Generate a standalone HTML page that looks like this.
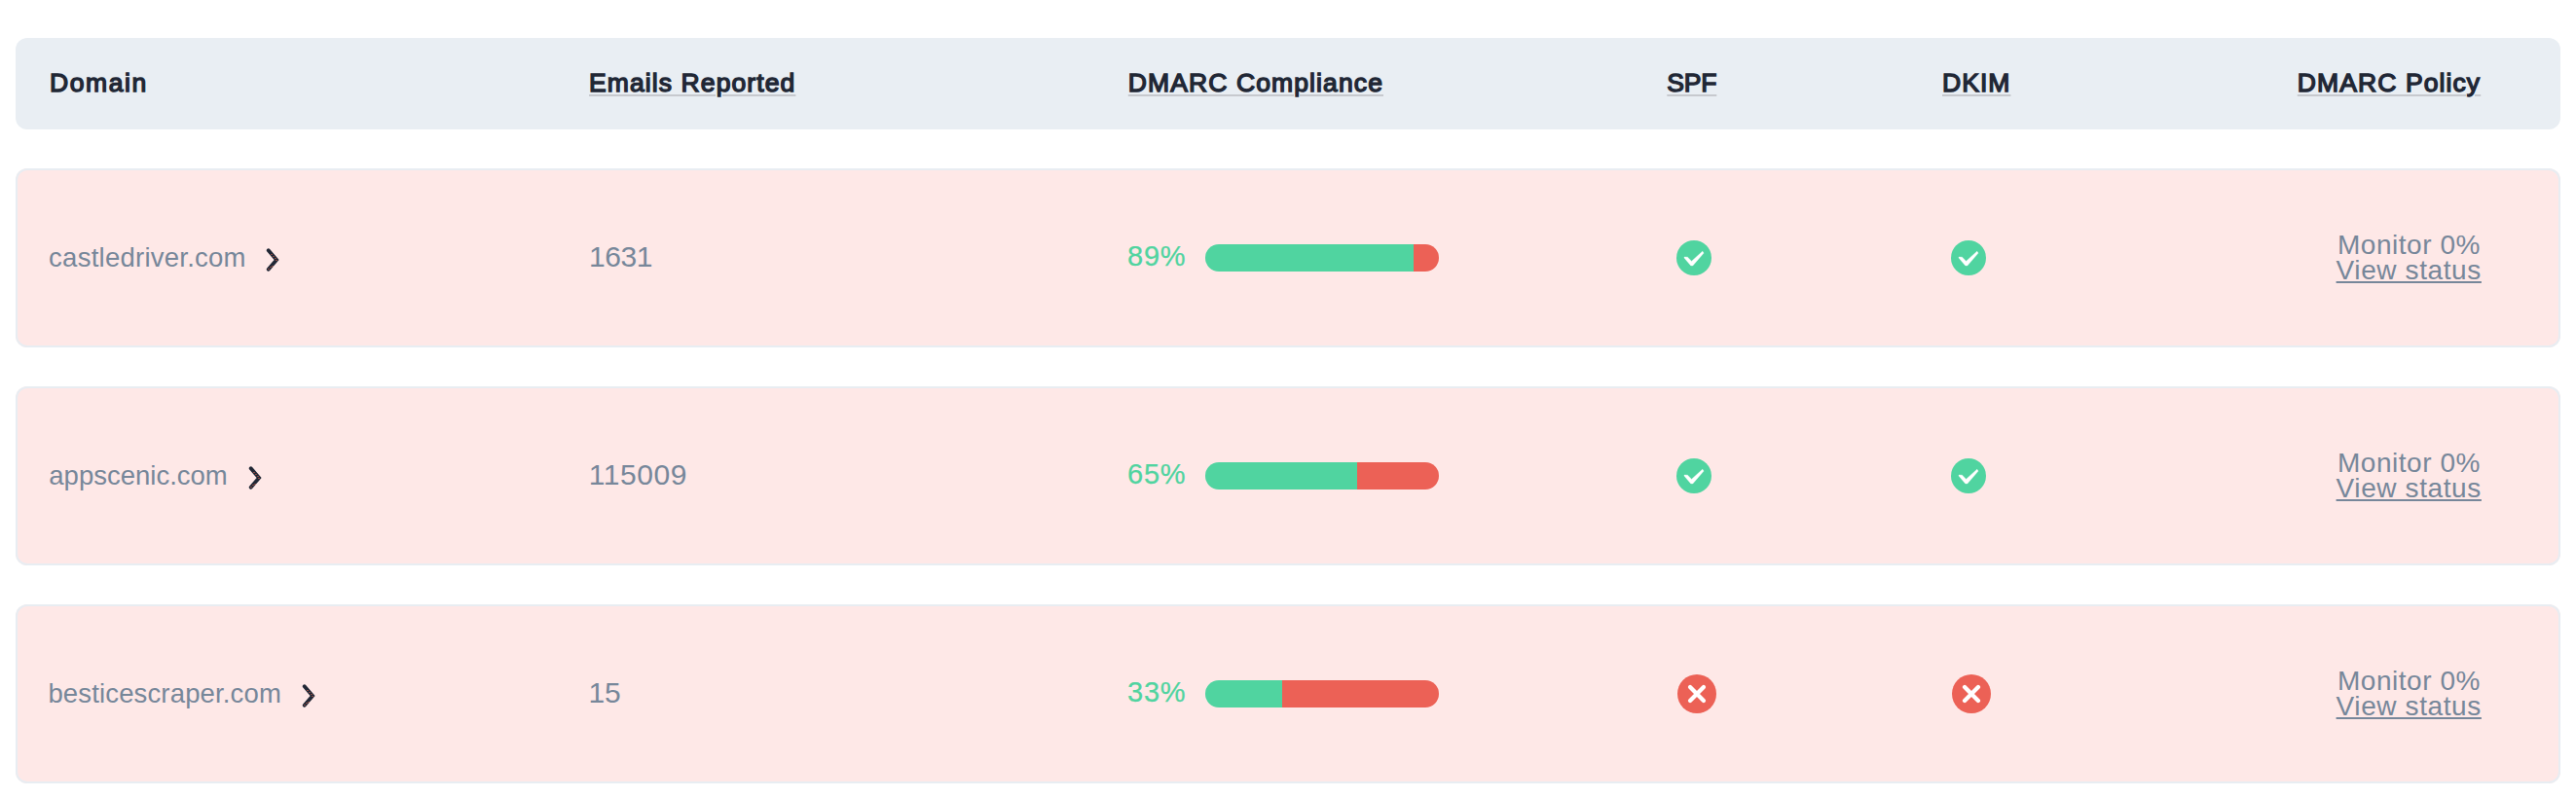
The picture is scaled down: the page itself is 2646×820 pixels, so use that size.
<!DOCTYPE html>
<html lang="en">
<head>
<meta charset="utf-8">
<title>DMARC domains</title>
<style>
*{box-sizing:border-box}
html,body{margin:0;padding:0;background:#fff}
body{width:2646px;height:820px;position:relative;overflow:hidden;font-family:"Liberation Sans",sans-serif}
.table{position:absolute;left:16px;top:0;width:2614px;height:820px}
.thead{position:absolute;left:0;top:39px;width:2614px;height:94px;border-radius:12px;background:#e9eef3}
.row{position:absolute;left:0;width:2614px;height:184px;border-radius:12px;background:#fee8e7;box-shadow:inset 0 0 0 2px #e8edf2}
.r0{top:173px}.r1{top:397px}.r2{top:621px}
.t{position:absolute;white-space:nowrap;margin:0}
.th{font-weight:normal;font-size:26.5px;line-height:26.5px;color:#212735;-webkit-text-stroke:1.4px #212735}
.u{text-decoration:underline;text-decoration-color:#c7c9ce;text-decoration-thickness:2px;text-underline-offset:3px}
.td{font-weight:normal;font-size:28px;line-height:28px;color:#77879a}
.num{font-size:30px;line-height:30px}
.dom{font-size:27.5px;line-height:27.5px}
.pct{color:#50d4a0;font-size:29px;line-height:29px;-webkit-text-stroke:0.25px #50d4a0}
.vs{color:#77879a;text-decoration:underline;text-decoration-thickness:2px;text-underline-offset:2px;text-decoration-skip-ink:none}
.chev{position:absolute;width:20px;height:30px}
.bar{position:absolute;left:1222px;width:240px;height:28px;border-radius:14px;background:#ec6156;overflow:hidden}
.ico{position:absolute}
</style>
</head>
<body>
<div class="table">
<div class="thead">
<span class="t th" style="left:35.0px;top:33.3px;letter-spacing:1.6px;">Domain</span>
<span class="t th u" style="left:589.0px;top:33.3px;letter-spacing:1.1px;">Emails Reported</span>
<span class="t th u" style="left:1142.8px;top:33.3px;letter-spacing:1.11px;">DMARC Compliance</span>
<span class="t th u" style="left:1696.3px;top:33.3px;letter-spacing:-0.18px;">SPF</span>
<span class="t th u" style="left:1979.0px;top:33.3px;letter-spacing:1.05px;">DKIM</span>
<span class="t th u" style="left:2343.8px;top:33.3px;letter-spacing:1.1px;">DMARC Policy</span>
</div>
<div class="row r0">
<span class="t td dom" style="left:34.1px;top:78.0px;letter-spacing:0.25px;">castledriver.com</span>
<svg class="chev" style="left:257px;top:82px" viewBox="0 0 20 30"><g transform="translate(0.5 0.0)"><path d="M2.2 2.2 L10.6 12 L2.2 21.8" fill="none" stroke="#212735" stroke-width="3.8" stroke-linecap="round" stroke-linejoin="miter"/><rect x="5.0" y="6.0" width="1" height="1" fill="#f0694e"/><rect x="7.0" y="8.0" width="1" height="1" fill="#f0694e"/><rect x="9.0" y="10.0" width="1" height="1" fill="#f0694e"/><rect x="10.0" y="12.0" width="1" height="1" fill="#f0694e"/><rect x="2.0" y="21.0" width="1" height="1" fill="#f0694e"/><rect x="4.0" y="19.0" width="1" height="1" fill="#f0694e"/><rect x="6.0" y="18.0" width="1" height="1" fill="#f0694e"/></g></svg>
<span class="t td num" style="left:589.0px;top:75.6px;letter-spacing:-0.4px;">1631</span>
<span class="t td pct" style="left:1142.1px;top:76.3px;letter-spacing:0.72px;">89%</span>
<div class="bar" style="top:78px;background:linear-gradient(to right,#50d4a0 0,#50d4a0 213.6px,#ec6156 213.6px)"></div>
<svg class="ico" style="left:1706px;top:74px" width="36" height="36" viewBox="0 0 36 36"><circle cx="18" cy="18" r="18" fill="#50d4a0"/><path d="M8 17.1 L11.5 17.2 L15.5 21.4 L26.8 11.2 L28 13.1 L16.8 25.9 L14.8 25.9 L8.2 18.2 Z" fill="#fff" stroke="#fff" stroke-width="0.4"/></svg>
<svg class="ico" style="left:1988px;top:74px" width="36" height="36" viewBox="0 0 36 36"><circle cx="18" cy="18" r="18" fill="#50d4a0"/><path d="M8 17.1 L11.5 17.2 L15.5 21.4 L26.8 11.2 L28 13.1 L16.8 25.9 L14.8 25.9 L8.2 18.2 Z" fill="#fff" stroke="#fff" stroke-width="0.4"/></svg>
<span class="t td" style="left:2384.9px;top:64.7px;letter-spacing:0.55px;">Monitor 0%</span>
<a href="#" class="t td vs" style="left:2383.6px;top:90.9px;letter-spacing:0.6px;">View status</a>
</div>
<div class="row r1">
<span class="t td dom" style="left:34.3px;top:78.0px;">appscenic.com</span>
<svg class="chev" style="left:239px;top:82px" viewBox="0 0 20 30"><g transform="translate(0.5 0.0)"><path d="M2.2 2.2 L10.6 12 L2.2 21.8" fill="none" stroke="#212735" stroke-width="3.8" stroke-linecap="round" stroke-linejoin="miter"/><rect x="5.0" y="6.0" width="1" height="1" fill="#f0694e"/><rect x="7.0" y="8.0" width="1" height="1" fill="#f0694e"/><rect x="9.0" y="10.0" width="1" height="1" fill="#f0694e"/><rect x="10.0" y="12.0" width="1" height="1" fill="#f0694e"/><rect x="2.0" y="21.0" width="1" height="1" fill="#f0694e"/><rect x="4.0" y="19.0" width="1" height="1" fill="#f0694e"/><rect x="6.0" y="18.0" width="1" height="1" fill="#f0694e"/></g></svg>
<span class="t td num" style="left:588.8px;top:75.6px;letter-spacing:0.56px;">115009</span>
<span class="t td pct" style="left:1142.1px;top:76.3px;letter-spacing:0.72px;">65%</span>
<div class="bar" style="top:78px;background:linear-gradient(to right,#50d4a0 0,#50d4a0 156.0px,#ec6156 156.0px)"></div>
<svg class="ico" style="left:1706px;top:74px" width="36" height="36" viewBox="0 0 36 36"><circle cx="18" cy="18" r="18" fill="#50d4a0"/><path d="M8 17.1 L11.5 17.2 L15.5 21.4 L26.8 11.2 L28 13.1 L16.8 25.9 L14.8 25.9 L8.2 18.2 Z" fill="#fff" stroke="#fff" stroke-width="0.4"/></svg>
<svg class="ico" style="left:1988px;top:74px" width="36" height="36" viewBox="0 0 36 36"><circle cx="18" cy="18" r="18" fill="#50d4a0"/><path d="M8 17.1 L11.5 17.2 L15.5 21.4 L26.8 11.2 L28 13.1 L16.8 25.9 L14.8 25.9 L8.2 18.2 Z" fill="#fff" stroke="#fff" stroke-width="0.4"/></svg>
<span class="t td" style="left:2384.9px;top:64.7px;letter-spacing:0.55px;">Monitor 0%</span>
<a href="#" class="t td vs" style="left:2383.6px;top:90.9px;letter-spacing:0.6px;">View status</a>
</div>
<div class="row r2">
<span class="t td dom" style="left:33.4px;top:78.0px;letter-spacing:0.15px;">besticescraper.com</span>
<svg class="chev" style="left:294px;top:82px" viewBox="0 0 20 30"><g transform="translate(0.5 0.0)"><path d="M2.2 2.2 L10.6 12 L2.2 21.8" fill="none" stroke="#212735" stroke-width="3.8" stroke-linecap="round" stroke-linejoin="miter"/><rect x="5.0" y="6.0" width="1" height="1" fill="#f0694e"/><rect x="7.0" y="8.0" width="1" height="1" fill="#f0694e"/><rect x="9.0" y="10.0" width="1" height="1" fill="#f0694e"/><rect x="10.0" y="12.0" width="1" height="1" fill="#f0694e"/><rect x="2.0" y="21.0" width="1" height="1" fill="#f0694e"/><rect x="4.0" y="19.0" width="1" height="1" fill="#f0694e"/><rect x="6.0" y="18.0" width="1" height="1" fill="#f0694e"/></g></svg>
<span class="t td num" style="left:588.6px;top:75.6px;letter-spacing:-0.3px;">15</span>
<span class="t td pct" style="left:1142.1px;top:76.3px;letter-spacing:0.72px;">33%</span>
<div class="bar" style="top:78px;background:linear-gradient(to right,#50d4a0 0,#50d4a0 79.2px,#ec6156 79.2px)"></div>
<svg class="ico" style="left:1707px;top:72px" width="40" height="40" viewBox="0 0 40 40"><circle cx="20" cy="20" r="20" fill="#ec6156"/><path d="M13.05 13.05 L26.95 26.95 M26.95 13.05 L13.05 26.95" fill="none" stroke="#fff" stroke-width="4.3" stroke-linecap="round"/></svg>
<svg class="ico" style="left:1989px;top:72px" width="40" height="40" viewBox="0 0 40 40"><circle cx="20" cy="20" r="20" fill="#ec6156"/><path d="M13.05 13.05 L26.95 26.95 M26.95 13.05 L13.05 26.95" fill="none" stroke="#fff" stroke-width="4.3" stroke-linecap="round"/></svg>
<span class="t td" style="left:2384.9px;top:64.7px;letter-spacing:0.55px;">Monitor 0%</span>
<a href="#" class="t td vs" style="left:2383.6px;top:90.9px;letter-spacing:0.6px;">View status</a>
</div>
</div>
</body>
</html>
